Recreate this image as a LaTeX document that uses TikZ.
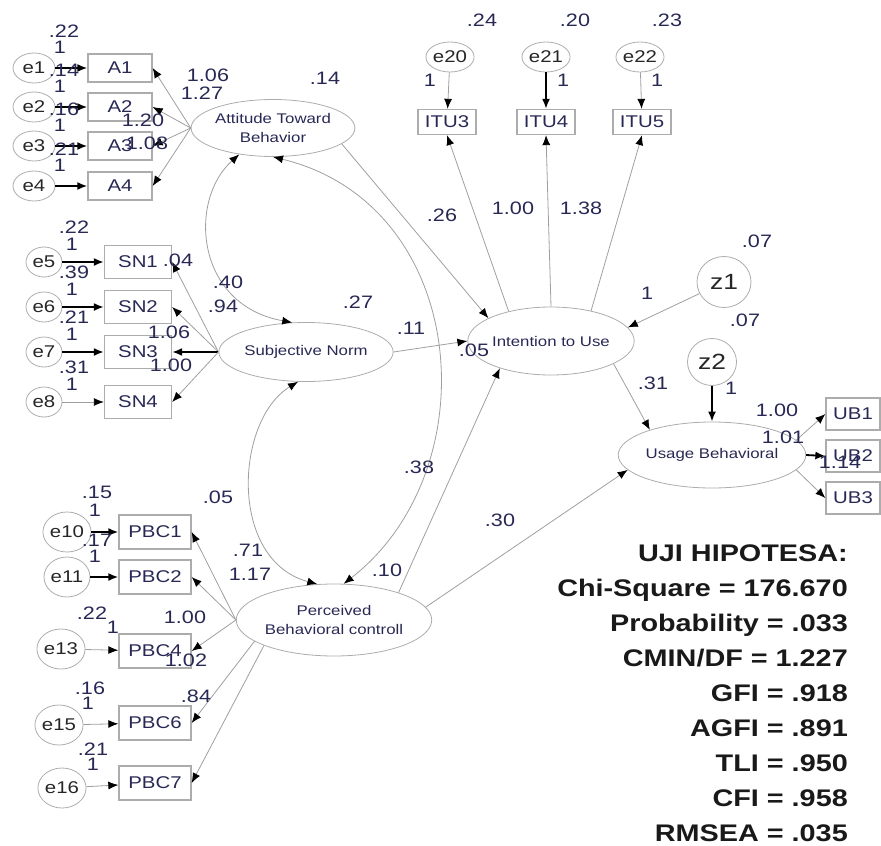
\documentclass[tikz,border=0pt]{standalone}
\usepackage{fontspec}
\setmainfont{Liberation Sans}[FakeStretch=1.2]
\usetikzlibrary{arrows.meta,shapes.geometric}
\definecolor{labcol}{RGB}{40,40,85}

\tikzset{
  obsbox/.style={draw=gray!65, line width=1.3pt, inner sep=0pt, minimum width=64pt,
    minimum height=28pt, text=labcol, font=\fontsize{17}{17}\selectfont},
  errnode/.style={ellipse, draw=gray!65, line width=0.8pt, inner sep=0pt, minimum width=42pt,
    minimum height=32pt, text=black!85, font=\fontsize{17}{17}\selectfont},
  latent/.style={ellipse, draw=gray!65, line width=0.8pt, inner sep=0pt, align=center,
    text=labcol, font=\fontsize{14}{19}\selectfont},
  est/.style={inner sep=0pt, text=labcol, font=\fontsize{18}{18}\selectfont},
  reg/.style={draw=gray!75, line width=0.8pt, -{Latex[length=10pt,width=8pt,color=black]}},
  fixreg/.style={draw=black, line width=1.8pt, -{Latex[length=10pt,width=8pt]}},
  covar/.style={draw=gray!75, line width=0.8pt,
    {Latex[length=10pt,width=8pt,color=black]}-{Latex[length=10pt,width=8pt,color=black]}},
}

\begin{document}
\begin{tikzpicture}[x=1pt,y=-1pt]
\useasboundingbox (0,0) rectangle (881,846);

% ---- 潜变量 ----
\node[latent, minimum width=163pt, minimum height=57pt] (att) at (273,128) {Attitude Toward\\Behavior};
\node[latent, minimum width=172pt, minimum height=59pt] (sn) at (306,352) {Subjective Norm};
\node[latent, minimum width=182pt, minimum height=72pt] (pbc) at (334,620) {Perceived\\Behavioral controll};
\node[latent, minimum width=154pt, minimum height=68pt] (iu) at (551,341) {Intention to Use};
\node[latent, minimum width=169pt, minimum height=66pt] (ub) at (712,455) {Usage Behavioral};

% ---- 扰动项 ----
\node[errnode, minimum width=54pt, minimum height=51pt, font=\fontsize{22}{22}\selectfont] (z1) at (724,282) {z1};
\node[errnode, minimum width=49pt, minimum height=47pt, font=\fontsize{22}{22}\selectfont] (z2) at (712,362) {z2};

% ---- A 组 ----
\foreach \i/\y/\v in {1/68/.22, 2/107/.14, 3/146/.16, 4/186/.21} {
    \node[errnode, minimum height=30pt] (e\i) at (34,\y) {e\i};
    \node[obsbox] (a\i) at (120,\y) {A\i};
    \draw[fixreg] (e\i) -- (a\i);
    \draw[reg] (att.west) -- (a\i.east);
    \node[est] (ve\i) at (64,{\y-37}) {\v};
    \node[est] (fe\i) at (60,{\y-21}) {1};
}

% ---- SN 组 ----
\foreach \i/\j/\y/\v/\st in {5/1/262/.22/fixreg, 6/2/307/.39/fixreg, 7/3/352/.21/fixreg, 8/4/402/.31/reg} {
    \node[errnode, minimum width=36pt, minimum height=30pt] (e\i) at (44,\y) {e\i};
    \node[obsbox, minimum width=67pt, minimum height=33pt] (sn\j) at (138,\y) {SN\j};
    \draw[\st] (e\i) -- (sn\j);
    \node[est] (ve\i) at (74,{\y-35}) {\v};
    \node[est] (fe\i) at (72,{\y-18}) {1};
}
\draw[reg] (sn.west) -- (sn1.east);
\draw[reg] (sn.west) -- (sn2.east);
\draw[fixreg] (sn.west) -- (sn3.east);
\draw[reg] (sn.west) -- (sn4.east);

% ---- PBC 组 ----
\foreach \i/\j/\ex/\ey/\by/\v/\vx/\vy/\ox/\oy/\st in {
    10/1/67/532/532/.15/97/492/95/510/fixreg,
    11/2/67/577/577/.17/97/540/95/556/fixreg,
    13/4/61/649/651/.22/92/613/113/627/reg,
    15/6/59/725/723/.16/90/688/88/703/reg,
    16/7/62/788/783/.21/93/749/93/764/reg} {
    \node[errnode, minimum width=44pt, minimum height=40pt] (e\i) at (\ex,\ey) {e\i};
    \node[obsbox, minimum width=72pt, minimum height=34pt] (pbc\j) at (155,\by) {PBC\j};
    \draw[\st] (e\i) -- (pbc\j);
    \node[est] (ve\i) at (\vx,\vy) {\v};
    \node[est] (fe\i) at (\ox,\oy) {1};
}
\draw[reg] (pbc.west) -- (pbc1.east);
\draw[reg] (pbc.west) -- (pbc2.east);
\draw[reg] (pbc.west) -- (pbc4.east);
\draw[reg] (pbc.195) -- (pbc6.east);
\draw[reg] (pbc.200) -- (pbc7.east);

% ---- ITU 组 ----
\foreach \i/\j/\x/\bx/\st/\v/\vx/\ox in {20/3/450/447/reg/.24/482/430, 21/4/546/546/fixreg/.20/575/563, 22/5/640/642/reg/.23/667/657} {
    \node[errnode, minimum width=40pt, minimum height=30pt] (e\i) at (\x,57) {e\i};
    \node[obsbox, minimum width=58pt, minimum height=25pt] (itu\j) at (\bx,122) {ITU\j};
    \draw[\st] (e\i) -- (itu\j);
    \node[est] (ve\i) at (\vx,20) {\v};
    \node[est] (fe\i) at (\ox,80) {1};
}
\draw[reg] (iu.145) -- (itu3.south);
\draw[reg] (iu.north) -- (itu4.south);
\draw[reg] (iu.37) -- (itu5.south);

% ---- UB 组 ----
\foreach \j/\y/\st/\a in {1/414/reg/10, 2/456/fixreg/0, 3/498/reg/-10} {
    \node[obsbox, minimum width=54pt, minimum height=32pt] (ub\j) at (853,\y) {UB\j};
    \draw[\st] (ub.\a) -- (ub\j.west);
}

% ---- 结构路径 ----
\draw[reg] (att.-13) -- (iu.160);
\draw[reg] (sn.east) -- (iu.west);
\draw[reg] (pbc.23) -- (iu.-152);
\draw[reg] (pbc.8) -- (ub.190);
\draw[reg] (iu.-20) -- (ub.158);
\draw[reg] (z1) -- (iu.10);
\draw[fixreg] (z2) -- (ub);

% ---- 协方差 ----
\draw[covar] (att.218) .. controls (188,200) and (195,305) .. (sn.115);
\draw[covar] (att.south) .. controls (470,205) and (490,470) .. (pbc.75);
\draw[covar] (sn.255) .. controls (235,420) and (228,560) .. (pbc.115);

% ---- 估计值 ----
\node[est] (l1) at (208,75) {1.06};
\node[est] (l2) at (202,93) {1.27};
\node[est] (l3) at (143,120) {1.20};
\node[est] (l4) at (147,143) {1.08};
\node[est] (r1) at (325,78) {.14};
\node[est] (l5) at (178,260) {.04};
\node[est] (c1) at (228,282) {.40};
\node[est] (l6) at (223,306) {.94};
\node[est] (l7) at (169,332) {1.06};
\node[est] (l8) at (171,365) {1.00};
\node[est] (r2) at (358,302) {.27};
\node[est] (c2) at (218,497) {.05};
\node[est] (l9) at (248,550) {.71};
\node[est] (l10) at (250,574) {1.17};
\node[est] (l11) at (185,617) {1.00};
\node[est] (l12) at (186,660) {1.02};
\node[est] (l13) at (196,696) {.84};
\node[est] (b1) at (442,215) {.26};
\node[est] (l14) at (513,208) {1.00};
\node[est] (l15) at (581,208) {1.38};
\node[est] (b2) at (411,328) {.11};
\node[est] (b3) at (474,350) {.05};
\node[est] (c3) at (419,467) {.38};
\node[est] (b4) at (387,570) {.10};
\node[est] (b5) at (500,520) {.30};
\node[est] (b6) at (653,383) {.31};
\node[est] (fz1) at (647,293) {1};
\node[est] (vz1) at (757,241) {.07};
\node[est] (fz2) at (731,388) {1};
\node[est] (vz2) at (745,320) {.07};
\node[est] (l16) at (777,410) {1.00};
\node[est] (l17) at (783,437) {1.01};
\node[est] (l18) at (840,462) {1.14};

% ---- 拟合指标 ----
\node[anchor=north east, align=right, inner sep=0pt, text=black!90,
      font=\fontsize{24}{35}\selectfont\bfseries] (stats) at (848,545)
    {UJI HIPOTESA:\\Chi-Square = 176.670\\Probability = .033\\CMIN/DF = 1.227\\GFI = .918\\AGFI = .891\\TLI = .950\\CFI = .958\\RMSEA = .035};
\end{tikzpicture}
\end{document}
